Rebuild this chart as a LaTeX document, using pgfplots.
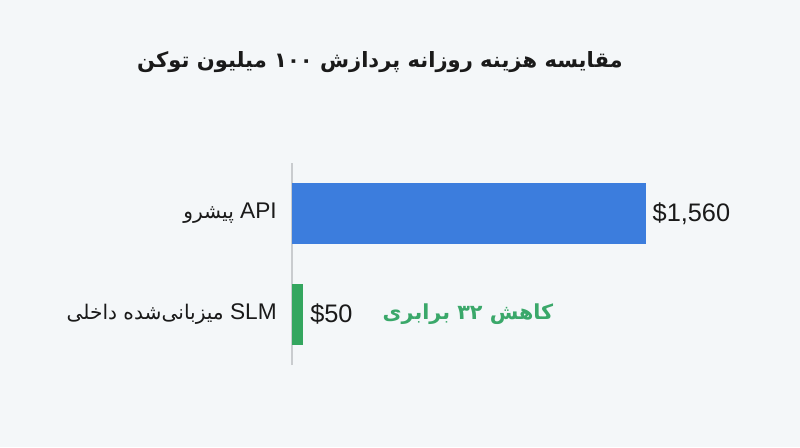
\documentclass[border=0pt]{standalone}
\usepackage{fontspec}
\usepackage{pgfplots}
\pgfplotsset{compat=1.18}
\setmainfont{Liberation Sans}
\newfontfamily\fa[Script=Arabic, Scale=0.89]{DejaVu Sans}
\TeXXeTstate=1
\definecolor{bg}{HTML}{F4F7F9}
\definecolor{barblue}{HTML}{3C7DDD}
\definecolor{bargreen}{HTML}{34A65F}
\definecolor{anngreen}{HTML}{3AA86A}
\definecolor{txt}{HTML}{1A1A1A}
\definecolor{axisgray}{HTML}{C9CCCF}
\begin{document}
\begin{tikzpicture}[x=1pt,y=1pt]
\fill[bg] (0,0) rectangle (600,335.25);
\node[font=\fa\bfseries\fontsize{17.75}{22}\selectfont, text=txt] at (285,289) {\beginR مقایسه هزینه روزانه پردازش ۱۰۰ میلیون توکن\endR};
\begin{axis}[
  at={(219pt,61.5pt)}, anchor=south west,
  scale only axis, width=265.3pt, height=151.5pt,
  xbar, bar width=45pt, bar shift=0pt,
  xmin=0, xmax=1560, ymin=-0.5, ymax=1.5,
  axis x line=none, axis y line*=left,
  y axis line style={-, draw=axisgray, line width=0.8pt},
  ytick={0,1},
  yticklabels={{{\fa\beginR میزبانی^^^^200cشده داخلی\endR} SLM},{{\fa\beginR پیشرو\endR} API}},
  ytick style={draw=none},
  yticklabel style={font=\fontsize{17}{20}\selectfont, text=txt, inner sep=0pt, anchor=east, xshift=-7pt},
  point meta=explicit symbolic,
  nodes near coords,
  nodes near coords style={anchor=west, inner sep=0pt, xshift=5pt, font=\fontsize{19}{22}\selectfont, text=txt},
  clip=false,
]
\addplot[fill=barblue, draw=none] coordinates {(1560,1) [{\$1,560}]};
\addplot[fill=bargreen, draw=none] coordinates {(50,0) [{\$50}]};
\node[font=\fa\bfseries\fontsize{17.45}{20}\selectfont, text=anngreen] at (axis cs:776,0) {\beginR کاهش ۳۲ برابری\endR};
\end{axis}
\pgfresetboundingbox
\useasboundingbox (0,0) rectangle (600,335.25);
\end{tikzpicture}
\end{document}
